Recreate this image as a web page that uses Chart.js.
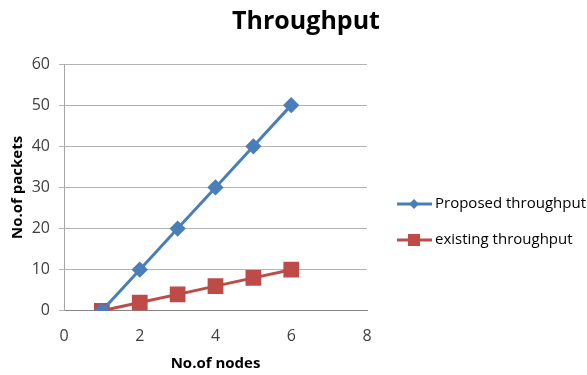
<!DOCTYPE html>
<html>
<head>
<meta charset="utf-8">
<script src="https://cdn.jsdelivr.net/npm/chart.js@4"></script>
<style>
  body { margin: 0; background: #fff; }
  #wrap { width: 587px; height: 375px; }
</style>
</head>
<body>
<div id="wrap"><canvas id="chart"></canvas></div>
<script>
// data
const nodes = [1, 2, 3, 4, 5, 6];
const proposed = [0, 10, 20, 30, 40, 50];
const existing = [0, 2, 4, 6, 8, 10];
const seriesNames = ["Proposed throughput", "existing throughput"];

const blue = "#4a7ebb";
const red = "#be4b48";
const font = "'Open Sans', 'Liberation Sans', sans-serif";

function toPoints(xs, ys) {
    return xs.map((x, i) => ({ x: x, y: ys[i] }));
}

// the title is centred a little right of the page middle in the original
const titleShift = {
    id: "titleShift",
    afterLayout(chart) {
        chart.titleBlock.left = 25;
        chart.titleBlock.right = chart.width;
    }
};

// legend on the right: line with its marker, then the name
// (the built-in one is capped at a quarter of the width here)
const sideLegend = {
    id: "sideLegend",
    afterDraw(chart) {
        const g = chart.ctx;
        const x0 = chart.chartArea.right + 30;
        const rows = [204, 240];
        g.save();
        chart.data.datasets.forEach((ds, i) => {
            const y = rows[i];
            g.strokeStyle = ds.borderColor;
            g.lineWidth = 3;
            g.beginPath(); g.moveTo(x0, y); g.lineTo(x0 + 35, y); g.stroke();
            g.fillStyle = ds.borderColor;
            g.beginPath();
            const cx = x0 + 17;
            if (ds.pointStyle == "rectRot") {
                g.moveTo(cx, y - 5); g.lineTo(cx + 5, y); g.lineTo(cx, y + 5); g.lineTo(cx - 5, y);
            } else {
                g.rect(cx - 6, y - 6, 12, 12);
            }
            g.fill();
            g.fillStyle = "#000";
            g.font = "15px " + font;
            g.textBaseline = "middle";
            g.textAlign = "left";
            g.fillText(ds.label, x0 + 38, y);
        });
        g.restore();
    }
};

const ctx = document.getElementById("chart").getContext("2d");
let myChart = new Chart(ctx, {
    type: "line",
    data: {
        datasets: [{
            label: seriesNames[0],
            data: toPoints(nodes, proposed),
            borderColor: blue,
            backgroundColor: blue,
            borderWidth: 3,
            pointStyle: "rectRot",
            pointRadius: 6,
            pointHoverRadius: 6
        }, {
            label: seriesNames[1],
            data: toPoints(nodes, existing),
            borderColor: red,
            backgroundColor: red,
            borderWidth: 3,
            pointStyle: "rect",
            pointRadius: 9,
            pointHoverRadius: 9
        }]
    },
    options: {
        responsive: true,
        maintainAspectRatio: false,
        animation: false,
        layout: { padding: { left: 5, right: 220, bottom: -2 } },
        plugins: {
            title: {
                display: true,
                text: "Throughput",
                color: "#000",
                font: { family: font, size: 25, weight: "bold" },
                padding: { top: 7, bottom: 27 }
            },
            legend: { display: false },
            tooltip: { enabled: false }
        },
        scales: {
            x: {
                type: "linear",
                min: 0,
                max: 8,
                ticks: { stepSize: 2, color: "#404040", padding: 8, font: { family: font, size: 16 } },
                grid: { display: false },
                border: { color: "#868686" },
                title: {
                    display: true,
                    text: "No.of nodes",
                    color: "#000",
                    padding: { top: 1 },
                    font: { family: font, size: 15, weight: "bold" }
                }
            },
            y: {
                min: 0,
                max: 60,
                afterFit: function(scale) { scale.width = 59; },
                ticks: { stepSize: 10, color: "#404040", padding: 9, font: { family: font, size: 16 } },
                grid: { color: "#b3b3b3", tickLength: 5 },
                border: { color: "#a6a6a6" },
                title: {
                    display: true,
                    text: "No.of packets",
                    color: "#000",
                    font: { family: font, size: 15, weight: "bold" }
                }
            }
        }
    },
    plugins: [titleShift, sideLegend]
});
</script>
</body>
</html>
